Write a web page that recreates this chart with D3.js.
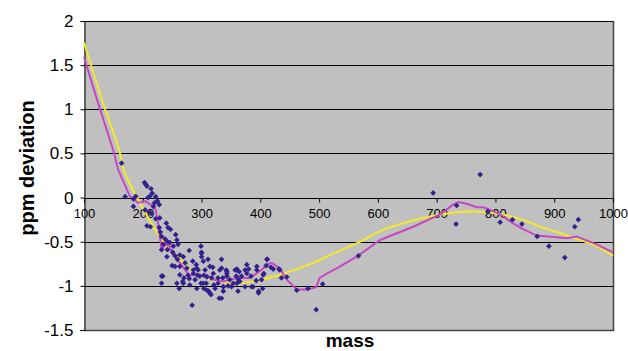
<!DOCTYPE html>
<html>
<head>
<meta charset="utf-8">
<script src="https://cdn.jsdelivr.net/npm/d3@7"></script>
<style>
  body { margin: 0; background: #fff; }
  svg { display: block; font-family: "Liberation Sans", Arial, sans-serif; }
</style>
</head>
<body>
<svg id="chart" width="628" height="351"></svg>
<script>
const yTicks = [-1.5, -1, -0.5, 0, 0.5, 1, 1.5, 2];
const xTicks = [100, 200, 300, 400, 500, 600, 700, 800, 900, 1000];

// measured points (mass, ppm deviation)
const scatterMass = [164, 170, 184, 188, 184, 203, 205, 207, 214, 216, 212, 209, 222, 225, 220, 228, 218, 204, 211, 214,
  222, 229, 207, 213, 228, 230, 240, 243, 247, 232, 238, 242, 235, 246, 256, 258, 252, 260, 242, 232,
  251, 255, 263, 241, 269, 259, 250, 263, 272, 279, 285, 232, 232, 258, 262, 270, 269, 277, 280, 284,
  275, 286, 291, 294, 293, 289, 297, 299, 300, 300, 303, 311, 306, 304, 309, 299, 308, 292, 304, 312,
  316, 314, 319, 320, 317, 321, 323, 331, 334, 336, 328, 330, 334, 337, 342, 343, 345, 354, 357, 360,
  364, 359, 363, 368, 374, 377, 380, 377, 384, 388, 394, 393, 397, 402, 404, 406, 410, 412, 418, 422,
  432, 436, 445, 462, 481, 495, 506, 567, 234, 255, 263, 268, 279, 286, 292, 300, 303, 309, 314, 328,
  337, 343, 348, 360, 334, 343, 360, 374, 394, 411, 405, 433, 365, 385, 397, 351, 337, 362,
  694, 734, 733, 774, 787, 808, 829, 845, 871, 891, 918, 935, 941];
const scatterPpm = [0.39, 0.01, -0.015, 0.015, -0.1, 0.17, 0.15, 0.13, 0.1, 0.05, 0.015, 0, 0.01, -0.04, -0.06, -0.08, -0.1, -0.14, -0.16, -0.18,
  -0.24, -0.23, -0.32, -0.33, -0.34, -0.39, -0.29, -0.34, -0.36, -0.44, -0.47, -0.5, -0.53, -0.51, -0.42, -0.48, -0.55, -0.53, -0.59, -0.59,
  -0.62, -0.66, -0.65, -0.67, -0.67, -0.7, -0.77, -0.78, -0.74, -0.6, -0.72, -0.89, -0.97, -0.97, -1.03, -0.91, -0.97, -0.88, -0.99, -1.22,
  -0.8, -0.82, -0.76, -0.82, -0.88, -0.93, -0.89, -0.55, -0.62, -0.67, -0.72, -0.7, -0.82, -0.88, -0.9, -0.97, -0.97, -1.03, -1.03, -1.06,
  -1.1, -0.78, -0.79, -0.86, -0.91, -0.99, -1.03, -0.82, -0.7, -0.91, -0.97, -1.14, -1.14, -1.01, -0.82, -0.89, -1.0, -0.97, -0.82, -0.81,
  -0.84, -0.89, -0.93, -0.89, -1.01, -0.86, -0.81, -0.76, -0.89, -1.01, -0.82, -0.94, -1.08, -0.93, -1.03, -0.86, -0.77, -0.7, -0.79, -0.81,
  -0.81, -0.91, -0.9, -1.05, -1.03, -1.27, -0.98, -0.66, -0.89, -0.78, -0.875, -0.95, -0.92, -0.86, -0.8, -0.63, -0.97, -1.05, -1.08, -0.91,
  -1.01, -0.86, -0.93, -0.97, -0.8, -0.84, -0.82, -0.82, -0.78, -0.7, -0.875, -0.82, -0.95, -1.01, -1.06, -1.01, -1.06, -1.06,
  0.053, -0.09, -0.3, 0.26, -0.16, -0.28, -0.25, -0.3, -0.44, -0.55, -0.68, -0.33, -0.25];

// yellow smooth fit
const fitMass = [100, 130, 161, 167, 192, 235, 263, 286, 320, 360, 388, 433, 490, 519, 570, 604, 660, 700, 745, 791, 836, 881, 927, 972, 1000];
const fitPpm = [1.76, 1.12, 0.51, 0.32, -0.02, -0.5, -0.69, -0.84, -0.93, -0.97, -0.95, -0.875, -0.74, -0.65, -0.5, -0.38, -0.26, -0.2, -0.16, -0.17, -0.23, -0.34, -0.44, -0.55, -0.66];

// magenta moving average
const avgMass = [100, 125, 150, 158, 178, 184, 192, 204, 209, 218, 222, 226, 229, 232, 238, 245, 251, 258, 263, 272, 280, 289, 297, 309, 320,
  337, 360, 382, 402, 411, 419, 433, 445, 462, 479, 495, 501, 513, 536, 566, 604, 660, 706, 728, 737, 751, 768, 780, 791, 808,
  825, 842, 870, 904, 921, 938, 972, 1000];
const avgPpm = [1.59, 1.05, 0.53, 0.32, 0.015, -0.02, -0.06, -0.04, -0.06, -0.1, -0.14, -0.29, -0.44, -0.59, -0.53, -0.55, -0.63, -0.7, -0.74, -0.82, -0.89, -0.86, -0.89, -0.875, -0.93,
  -0.95, -0.91, -0.91, -0.82, -0.76, -0.74, -0.8, -0.93, -1.04, -1.04, -1.015, -0.91, -0.86, -0.78, -0.66, -0.48, -0.33, -0.19, -0.08, -0.05, -0.07, -0.11, -0.11, -0.14, -0.19,
  -0.27, -0.34, -0.43, -0.45, -0.46, -0.44, -0.53, -0.62];

const svg = d3.select("#chart");
const margin = { top: 21, right: 15, bottom: 21, left: 84 };
const width = 628 - margin.left - margin.right;
const height = 351 - margin.top - margin.bottom;

const x = d3.scaleLinear().domain([100, 1000]).range([margin.left, margin.left + width]);
const y = d3.scaleLinear().domain([-1.5, 2]).range([margin.top + height, margin.top]);

// plot area
svg.append("rect")
  .attr("x", margin.left)
  .attr("y", margin.top)
  .attr("width", width)
  .attr("height", height)
  .attr("fill", "#c0c0c0");

// horizontal gridlines
svg.append("g")
  .selectAll("line")
  .data(yTicks)
  .join("line")
  .attr("x1", margin.left)
  .attr("x2", margin.left + width)
  .attr("y1", (d) => Math.round(y(d)) + 0.5)
  .attr("y2", (d) => Math.round(y(d)) + 0.5)
  .attr("stroke", "#000")
  .attr("stroke-width", 1);

// border right/bottom
svg.append("path")
  .attr("d", `M${margin.left + width + 0.5},${margin.top}V${margin.top + height + 0.5}H${margin.left}`)
  .attr("fill", "none")
  .attr("stroke", "#444")
  .attr("stroke-width", 1.5);

// y axis
const yAxis = svg.append("g")
  .attr("transform", `translate(${margin.left + 0.5},0)`)
  .call(d3.axisLeft(y).tickValues(yTicks).tickSize(4).tickPadding(7).tickFormat((d) => String(d)));
yAxis.selectAll("text").attr("font-size", 17).attr("fill", "#000");
yAxis.selectAll("line,path").attr("stroke", "#000");

// x axis on zero line
const xAxis = svg.append("g")
  .attr("transform", `translate(0,${Math.round(y(0)) + 0.5})`)
  .call(d3.axisBottom(x).tickValues(xTicks).tickSize(4).tickPadding(6).tickFormat((d) => String(d)));
xAxis.select(".domain").remove();
xAxis.selectAll("text").attr("font-size", 13).attr("fill", "#000");
xAxis.selectAll("line").attr("stroke", "#000");

// curves
const fitLine = d3.line().x((d) => x(d[0])).y((d) => y(d[1])).curve(d3.curveCatmullRom);
const avgLine = d3.line().x((d) => x(d[0])).y((d) => y(d[1]));

svg.append("path")
  .datum(fitMass.map((m, i) => [m, fitPpm[i]]))
  .attr("fill", "none")
  .attr("stroke", "#f2ea2a")
  .attr("stroke-width", 2)
  .attr("d", fitLine);

svg.append("path")
  .datum(avgMass.map((m, i) => [m, avgPpm[i]]))
  .attr("fill", "none")
  .attr("stroke", "#c648c0")
  .attr("stroke-width", 2)
  .attr("d", avgLine);

// points: square turned 45deg, like the spreadsheet markers
const marker = d3.symbol().type(d3.symbolSquare).size(16);
svg.append("g")
  .selectAll("path")
  .data(scatterMass.map((m, i) => [m, scatterPpm[i]]))
  .join("path")
  .attr("transform", (d) => `translate(${x(d[0])},${y(d[1])}) rotate(45)`)
  .attr("d", marker)
  .attr("fill", "#34208c");

// axis titles
svg.append("text")
  .attr("transform", "translate(34,168) rotate(-90)")
  .attr("text-anchor", "middle")
  .attr("font-size", 20)
  .attr("font-weight", "bold")
  .text("ppm deviation");

svg.append("text")
  .attr("x", 350)
  .attr("y", 347)
  .attr("text-anchor", "middle")
  .attr("font-size", 19)
  .attr("font-weight", "bold")
  .text("mass");
</script>
</body>
</html>
